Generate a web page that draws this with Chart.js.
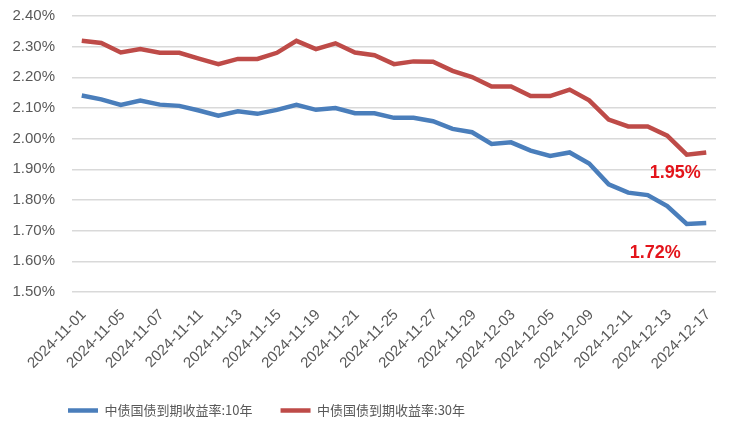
<!DOCTYPE html>
<html>
<head>
<meta charset="utf-8">
<script src="https://cdn.jsdelivr.net/npm/chart.js@4/dist/chart.umd.min.js"></script>
<style>
  html, body { margin: 0; padding: 0; background: #fff; }
  #wrap { width: 735px; height: 427px; position: relative; }
</style>
</head>
<body>
<div id="wrap"><canvas id="yield"></canvas></div>
<script>
// trading days, 2024-11-01 .. 2024-12-17
var dates = [
  '2024-11-01', '2024-11-04', '2024-11-05', '2024-11-06', '2024-11-07', '2024-11-08',
  '2024-11-11', '2024-11-12', '2024-11-13', '2024-11-14', '2024-11-15',
  '2024-11-18', '2024-11-19', '2024-11-20', '2024-11-21', '2024-11-22',
  '2024-11-25', '2024-11-26', '2024-11-27', '2024-11-28', '2024-11-29',
  '2024-12-02', '2024-12-03', '2024-12-04', '2024-12-05', '2024-12-06',
  '2024-12-09', '2024-12-10', '2024-12-11', '2024-12-12', '2024-12-13',
  '2024-12-16', '2024-12-17'
];

// 中债国债到期收益率:10年 (%)
var y10 = [
  2.141, 2.128, 2.110, 2.124, 2.111, 2.107, 2.092, 2.075, 2.089, 2.081, 2.094,
  2.110, 2.094, 2.100, 2.083, 2.083, 2.068, 2.068, 2.057, 2.032, 2.021,
  1.983, 1.988, 1.961, 1.944, 1.955, 1.919, 1.851, 1.824, 1.816, 1.780,
  1.722, 1.725
];

// 中债国债到期收益率:30年 (%)
var y30 = [
  2.319, 2.312, 2.281, 2.292, 2.280, 2.280, 2.261, 2.243, 2.260, 2.260, 2.280,
  2.319, 2.292, 2.311, 2.281, 2.272, 2.243, 2.252, 2.251, 2.221, 2.201,
  2.170, 2.170, 2.139, 2.139, 2.160, 2.125, 2.062, 2.040, 2.040, 2.010,
  1.948, 1.955
];

var seriesNames = ['中债国债到期收益率:10年', '中债国债到期收益率:30年'];
var endLabels = ['1.72%', '1.95%'];
var yTicks = [1.5, 2.4, 0.1]; // min, max, step

var textGrey = '#595959';
var font = 'Liberation Sans, Arial, sans-serif';

// red callout values near the last points
var endLabelPlugin = {
  id: 'endLabels',
  afterDatasetsDraw: function (chart) {
    var ctx = chart.ctx;
    var xs = chart.scales.x;
    var ys = chart.scales.y;
    var last = dates.length - 1;
    var spots = [
      { text: endLabels[0], v: y10[last], dx: -51, dy: 30 },
      { text: endLabels[1], v: y30[last], dx: -31, dy: 21 }
    ];
    ctx.save();
    ctx.fillStyle = '#E3141B';
    ctx.font = 'bold 18px ' + font;
    ctx.textAlign = 'center';
    ctx.textBaseline = 'middle';
    spots.forEach(function (s) {
      ctx.fillText(s.text, xs.getPixelForValue(last) + s.dx, ys.getPixelForValue(s.v) + s.dy);
    });
    ctx.restore();
  }
};

// nudge legend to sit where the original has it
var legendShift = {
  id: 'legendShift',
  afterLayout: function (chart) {
    if (chart.legend) {
      chart.legend.left = 40;
    }
  }
};

var ctx = document.getElementById('yield').getContext('2d');

new Chart(ctx, {
  type: 'line',
  data: {
    labels: dates,
    datasets: [
      {
        label: seriesNames[0],
        data: y10,
        borderColor: '#4A7EBB',
        backgroundColor: '#4A7EBB',
        borderWidth: 4.5,
        pointRadius: 0,
        tension: 0
      },
      {
        label: seriesNames[1],
        data: y30,
        borderColor: '#BE4B48',
        backgroundColor: '#BE4B48',
        borderWidth: 4.5,
        pointRadius: 0,
        tension: 0
      }
    ]
  },
  options: {
    responsive: true,
    maintainAspectRatio: false,
    animation: false,
    layout: { padding: { left: 8, right: 19, top: 16, bottom: 0 } },
    plugins: {
      tooltip: { enabled: false },
      legend: {
        position: 'bottom',
        align: 'start',
        labels: {
          usePointStyle: true,
          pointStyle: 'line',
          pointStyleWidth: 30,
          padding: 28,
          color: textGrey,
          font: { family: 'Noto Sans CJK SC', size: 13 }
        }
      }
    },
    scales: {
      x: {
        offset: true,
        grid: { display: false, drawTicks: false },
        border: { display: false },
        afterFit: function (scale) {
          scale.paddingLeft = 0;
          scale.height -= 11;
        },
        ticks: {
          autoSkip: false,
          maxRotation: 45,
          minRotation: 45,
          labelOffset: 2,
          padding: 14,
          color: textGrey,
          font: { family: font, size: 15 },
          callback: function (v, i) {
            return i % 2 === 0 ? dates[i] : '';
          }
        }
      },
      y: {
        min: yTicks[0],
        max: yTicks[1],
        grid: { color: '#D9D9D9', lineWidth: 1.5, drawTicks: false },
        border: { display: false },
        afterFit: function (scale) {
          scale.width = 64;
          scale.paddingTop = 0;
          scale.paddingBottom = 0;
        },
        ticks: {
          stepSize: yTicks[2],
          padding: 17,
          color: textGrey,
          font: { family: font, size: 15 },
          callback: function (v) { return v.toFixed(2) + '%'; }
        }
      }
    }
  },
  plugins: [endLabelPlugin, legendShift]
});
</script>
</body>
</html>
